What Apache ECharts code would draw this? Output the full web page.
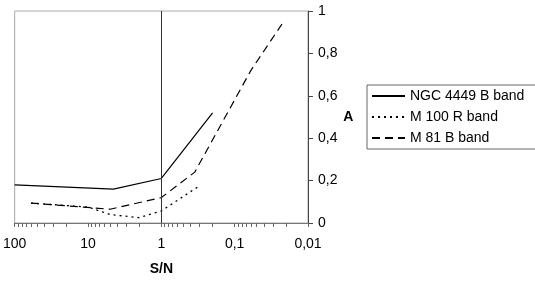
<!DOCTYPE html>
<html>
<head>
<meta charset="UTF-8">
<title>A vs S/N</title>
<script src="https://cdn.jsdelivr.net/npm/echarts@6/dist/echarts.min.js"></script>
<style>
  html, body { margin: 0; padding: 0; background: #fff; }
  #chart { width: 535px; height: 281px; }
</style>
</head>
<body>
<div id="chart"></div>
<script>
// S/N values (x, log scale, reversed) and A values (y)
var ngcSN = [100, 4.5, 1, 0.2];
var ngcA = [0.18, 0.16, 0.21, 0.52];

var m100SN = [60, 10, 5, 2, 1, 0.3];
var m100A = [0.094, 0.075, 0.04, 0.025, 0.057, 0.176];

var m81SN = [60, 5, 1, 0.35, 0.06, 0.022];
var m81A = [0.094, 0.065, 0.12, 0.24, 0.72, 0.945];

var xTickLabels = ['100', '10', '1', '0,1', '0,01'];
var yTickLabels = ['0', '0,2', '0,4', '0,6', '0,8', '1'];
var markerSN = [1];

var seriesNames = ['NGC 4449 B band', 'M 100 R band', 'M 81 B band'];

// x axis works on log10(S/N)
function toPairs(sn, a) {
  var out = [];
  for (var i = 0; i < sn.length; i++) {
    out.push([Math.log10(sn[i]), a[i]]);
  }
  return out;
}

// ticks at 1..9 of each decade
var tickVals = [];
for (var d = -2; d < 2; d++) {
  for (var k = 1; k < 10; k++) {
    tickVals.push(Math.log10(k) + d);
  }
}
tickVals.push(2);

var font = "'Liberation Sans', Arial, sans-serif";
var chart = echarts.init(document.getElementById('chart'));

var option = {
  animation: false,
  textStyle: { fontFamily: font },
  grid: {
    left: 11, right: 227, top: 11, bottom: 58,
    show: true, borderColor: '#aaa', borderWidth: 1
  },
  legend: {
    orient: 'vertical',
    left: 367, top: 85,
    padding: [3, 14, 3, 4],
    itemGap: 5,
    itemWidth: 33, itemHeight: 14,
    borderColor: '#666', borderWidth: 1,
    itemStyle: { opacity: 0 },
    textStyle: { fontFamily: font, fontSize: 14, color: '#000', lineHeight: 16 },
    data: seriesNames
  },
  xAxis: {
    type: 'value',
    min: -2, max: 2, interval: 1,
    inverse: true,
    name: 'S/N',
    nameLocation: 'middle',
    nameGap: 39,
    nameTextStyle: { fontFamily: font, fontSize: 14, fontWeight: 'bold', color: '#000' },
    axisLine: { onZero: false, lineStyle: { color: '#777', width: 1 } },
    axisTick: { show: true, length: 4, customValues: tickVals, lineStyle: { color: '#666' } },
    axisLabel: {
      fontFamily: font, fontSize: 14, color: '#000', margin: 14,
      formatter: function (v) { return xTickLabels[2 - Math.round(v)]; }
    },
    splitLine: { show: false }
  },
  yAxis: {
    type: 'value',
    position: 'right',
    min: 0, max: 1, interval: 0.2,
    name: 'A',
    nameLocation: 'middle',
    nameGap: 30,
    nameRotate: 0,
    nameTextStyle: { fontFamily: font, fontSize: 14, fontWeight: 'bold', color: '#000' },
    axisLine: { show: true, onZero: false, lineStyle: { color: '#444', width: 1 } },
    axisTick: { show: true, length: 5, lineStyle: { color: '#444' } },
    axisLabel: {
      fontFamily: font, fontSize: 14, color: '#000', margin: 10,
      formatter: function (v) { return yTickLabels[Math.round(v * 5)]; }
    },
    splitLine: { show: false }
  },
  series: [
    {
      name: seriesNames[0],
      type: 'line',
      data: toPairs(ngcSN, ngcA),
      symbol: 'none',
      lineStyle: { color: '#000', width: 1.2, type: 'solid' },
      itemStyle: { color: '#000' },
      markLine: {
        silent: true,
        symbol: 'none',
        label: { show: false },
        lineStyle: { color: '#333', width: 1, type: 'solid' },
        data: markerSN.map(function (s) { return { xAxis: Math.log10(s) }; })
      }
    },
    {
      name: seriesNames[1],
      type: 'line',
      data: toPairs(m100SN, m100A),
      symbol: 'none',
      lineStyle: { color: '#000', width: 1.3, type: [2, 4] },
      itemStyle: { color: '#000' }
    },
    {
      name: seriesNames[2],
      type: 'line',
      data: toPairs(m81SN, m81A),
      symbol: 'none',
      lineStyle: { color: '#000', width: 1.2, type: [8, 5] },
      itemStyle: { color: '#000' }
    }
  ]
};

chart.setOption(option);
</script>
</body>
</html>
